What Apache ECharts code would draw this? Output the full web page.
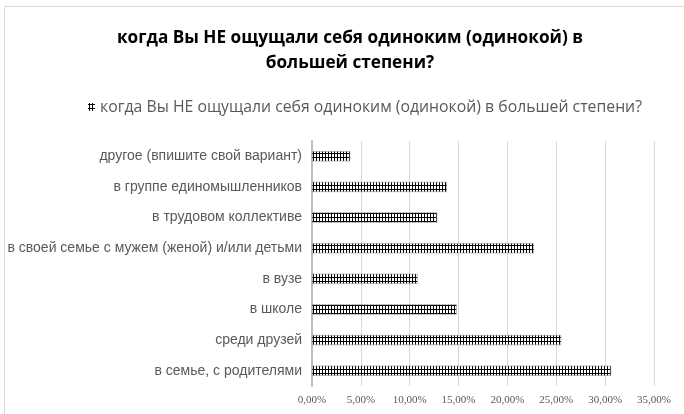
<!DOCTYPE html>
<html>
<head>
<meta charset="utf-8">
<script src="https://cdn.jsdelivr.net/npm/echarts@6/dist/echarts.min.js"></script>
<style>
  html, body { margin: 0; padding: 0; background: #fff; }
  #chart { width: 684px; height: 414px; }
</style>
</head>
<body>
<div id="chart"></div>
<script>
// categories bottom-to-top, as the axis draws them
var categories = [
  'в семье, с родителями',
  'среди друзей',
  'в школе',
  'в вузе',
  'в своей семье с мужем (женой) и/или детьми',
  'в трудовом коллективе',
  'в группе единомышленников',
  'другое (впишите свой вариант)'
];
var shares = [30.6, 25.5, 14.8, 10.8, 22.7, 12.8, 13.8, 3.9];
var seriesName = 'когда Вы НЕ ощущали себя одиноким (одинокой) в большей степени?';
var titleText = 'когда Вы НЕ ощущали себя одиноким (одинокой) в\nбольшей степени?';

// small "#" hatch like the Excel pattern fill
function makeHatch(){
  var c = document.createElement('canvas');
  c.width = 3;
  c.height = 4;
  var ctx = c.getContext('2d');
  ctx.fillStyle = '#ffffff';
  ctx.fillRect(0, 0, 3, 4);
  ctx.fillStyle = '#000000';
  ctx.fillRect(1, 0, 1, 4);
  ctx.fillRect(0, 1, 3, 1);
  return c;
}
var hatch = {image: makeHatch(), repeat: 'repeat'};

var myChart = echarts.init(document.getElementById('chart'), null, {renderer: 'canvas'});
option = {
  animation: false,
  backgroundColor: '#fff',
  title: {
    text: titleText,
    left: 345,
    textAlign: 'center',
    top: 21,
    textStyle: {
      fontFamily: 'Open Sans',
      fontWeight: 'bold',
      fontSize: 17.2,
      color: '#000',
      lineHeight: 25
    }
  },
  legend: {
    data: [seriesName],
    top: 94,
    left: 83,
    itemWidth: 7,
    itemHeight: 8,
    itemGap: 4,
    itemStyle: {borderWidth: 0},
    textStyle: {
      fontFamily: 'Open Sans',
      fontSize: 15.8,
      color: '#595959'
    }
  },
  graphic: [{
    type: 'rect',
    shape: {x: 4.5, y: 6.5, width: 720, height: 440},
    style: {fill: 'none', stroke: '#d9d9d9', lineWidth: 1},
    silent: true
  }],
  grid: {
    left: 312,
    right: 30,
    top: 141,
    bottom: 28,
    containLabel: false
  },
  xAxis: {
    type: 'value',
    min: 0,
    max: 35,
    interval: 5,
    axisLine: {show: false},
    axisTick: {show: false},
    splitLine: {lineStyle: {color: '#d9d9d9', width: 1}},
    axisLabel: {
      margin: 9,
      fontFamily: 'Liberation Serif',
      fontSize: 11,
      color: '#595959',
      formatter: function(v){ return v.toFixed(2).replace('.', ',') + '%'; }
    }
  },
  yAxis: {
    type: 'category',
    data: categories,
    axisLine: {lineStyle: {color: '#bfbfbf', width: 2}},
    axisTick: {show: false},
    axisLabel: {
      margin: 10,
      fontFamily: 'Liberation Sans',
      fontSize: 14,
      color: '#595959'
    }
  },
  series: [{
    name: seriesName,
    type: 'bar',
    data: shares,
    barWidth: 10,
    itemStyle: {color: hatch, borderColor: '#7f7f7f', borderWidth: 0.5}
  }]
};
myChart.setOption(option);
</script>
</body>
</html>
